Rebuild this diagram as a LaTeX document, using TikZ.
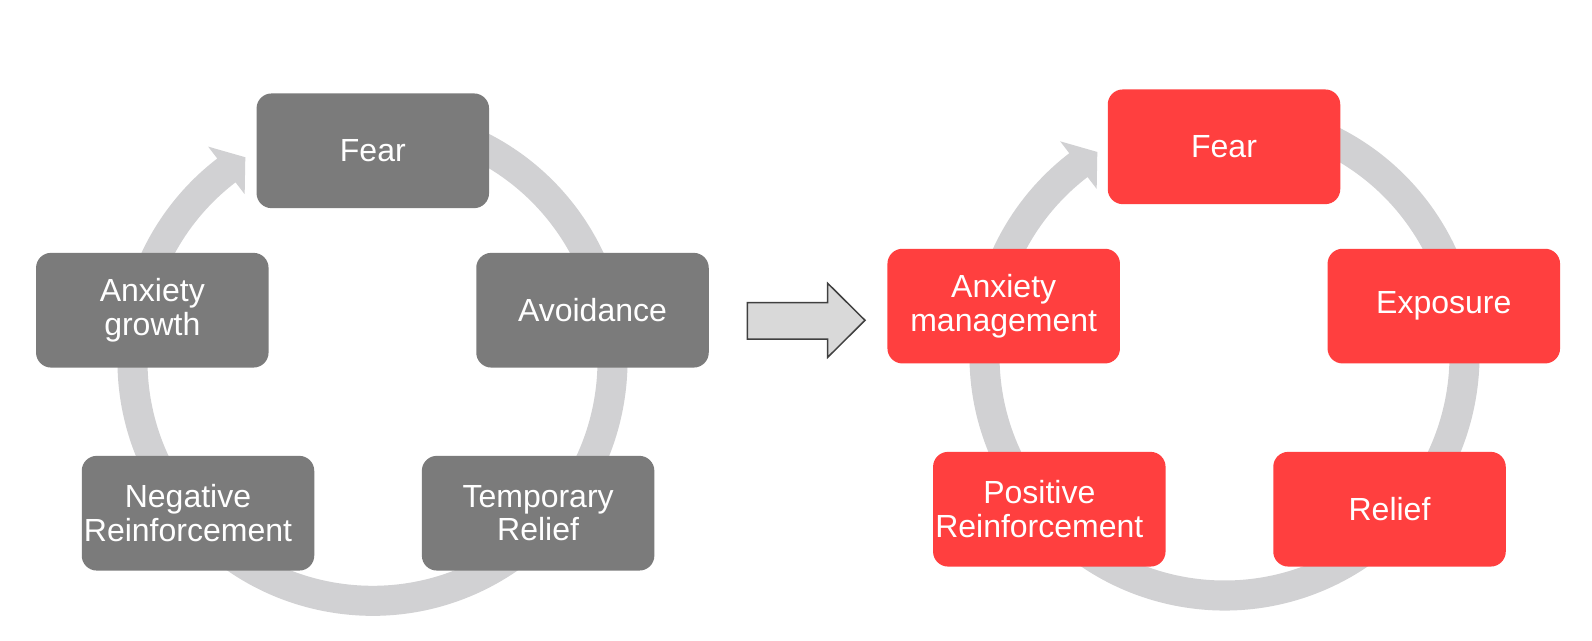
\documentclass[tikz,border=0pt]{standalone}
\usepackage{fontspec}
\setmainfont{Liberation Sans}
\usetikzlibrary{calc}
\definecolor{boxgray}{HTML}{7B7B7B}
\definecolor{boxred}{HTML}{FF3F3F}
\definecolor{ringc}{HTML}{D1D1D3}
\definecolor{arrfill}{HTML}{D9D9D9}
\definecolor{arrline}{HTML}{404040}
\tikzset{
  cyclering/.pic={
    \fill[ringc] (-80:255) arc[start angle=-80,end angle=232.5,radius=255]
      -- (232.5:270) -- (238:240) -- (232.5:210) -- (232.5:225)
      arc[start angle=232.5,end angle=-80,radius=225] -- cycle;
  },
  boxtext/.style={text=white, align=center, inner sep=0pt,
    font=\fontsize{32}{33.5}\selectfont},
  cbox/.style={boxtext, rectangle, rounded corners=15pt, minimum width=232.5pt,
    minimum height=114.7pt},
  graybox/.style={cbox, fill=boxgray},
  redbox/.style={cbox, fill=boxred},
  blockarrow/.style={draw=arrline, fill=arrfill, line width=1.5pt, line join=miter}
}
\begin{document}
\begin{tikzpicture}[x=1pt,y=-1pt]
\useasboundingbox[fill=white] (0,0) rectangle (1592,640);

% left cycle
\coordinate (lc) at (372.5,360.8);
\pic at (lc) {cyclering};
\node[graybox] (lfear)  at (372.8,150.8) {Fear};
\node[graybox] (lavoid) at (592.5,310.2) {Avoidance};
\node[graybox] (ltemp)  at (538.1,513.2) {Temporary\\Relief};
\node[graybox] (lneg)   at (198.0,513.2) {};
\node[boxtext] (lnegt)  at ([xshift=-10pt]lneg.center) {Negative\\Reinforcement};
\node[graybox] (lanx)   at (152.3,310.2) {Anxiety\\growth};

% middle block arrow
\coordinate (m1) at (747.3,302.7);
\coordinate (m2) at (827.7,302.7);
\coordinate (m3) at (827.7,283.3);
\coordinate (m4) at (865.0,320.3);
\coordinate (m5) at (827.7,357.3);
\coordinate (m6) at (827.7,339.0);
\coordinate (m7) at (747.3,339.0);
\draw[blockarrow] (m1) -- (m2) -- (m3) -- (m4) -- (m5) -- (m6) -- (m7) -- cycle;

% right cycle
\coordinate (rc) at (1224.5,355.5);
\pic at (rc) {cyclering};
\node[redbox] (rfear) at (1224.0,146.8) {Fear};
\node[redbox] (rexp)  at (1443.8,306.1) {Exposure};
\node[redbox] (rrel)  at (1389.5,509.2) {Relief};
\node[redbox] (rpos)  at (1049.3,509.2) {};
\node[boxtext] (rpost) at ([xshift=-10pt]rpos.center) {Positive\\Reinforcement};
\node[redbox] (ranx)  at (1003.7,306.1) {Anxiety\\management};
\end{tikzpicture}
\end{document}
